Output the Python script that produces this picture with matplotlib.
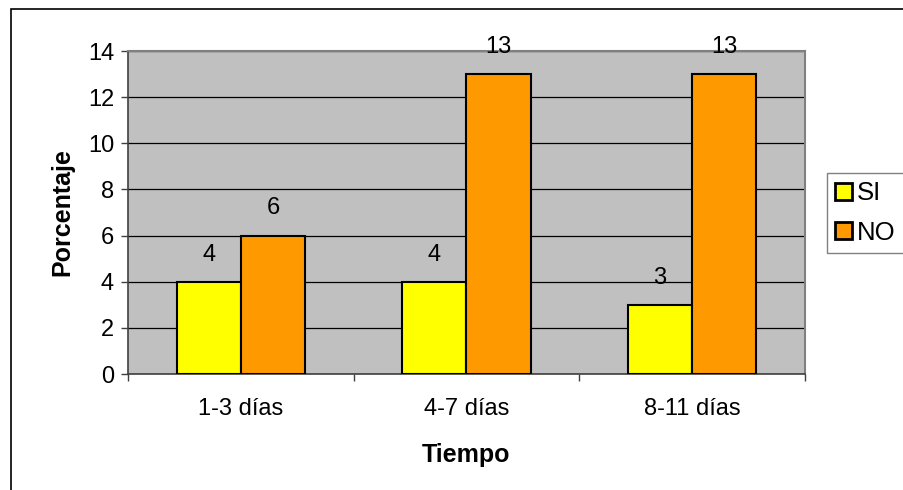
import numpy as np
import matplotlib.pyplot as plt
from matplotlib.patches import Rectangle

plt.rcParams['font.family'] = ['Liberation Sans', 'DejaVu Sans']

categories = ["1-3 días", "4-7 días", "8-11 días"]
si_values = [4, 4, 3]
no_values = [6, 13, 13]
series_names = ["SI", "NO"]
colors = ["#FFFF00", "#FF9900"]

fig = plt.figure(figsize=(9.04, 4.9), dpi=100)
W, H = 904, 490
ax = fig.add_axes([128 / W, 1 - 374 / H, (805 - 128) / W, (374 - 51) / H])
ax.set_facecolor("#C0C0C0")

x = np.arange(len(categories))
bw = 0.284
b1 = ax.bar(x - bw / 2, si_values, bw, color=colors[0], edgecolor="black", linewidth=1.5, label=series_names[0], zorder=3)
b2 = ax.bar(x + bw / 2, no_values, bw, color=colors[1], edgecolor="black", linewidth=1.5, label=series_names[1], zorder=3)

for bars, vals in ((b1, si_values), (b2, no_values)):
    for rect, v in zip(bars, vals):
        ax.annotate(str(v), (rect.get_x() + rect.get_width() / 2, v), xytext=(0, 19.5),
                    textcoords="offset points", ha="center", va="center", fontsize=17)

ax.set_xlim(-0.5, len(categories) - 0.5)
ax.set_ylim(0, 14)
ax.set_yticks(range(0, 15, 2))
ax.yaxis.grid(True, color="black", linewidth=0.9, zorder=1)
ax.set_axisbelow(True)
ax.set_xticks(x)
ax.set_xticklabels(categories, fontsize=17)
ax.set_xticks(np.arange(-0.5, len(categories)), minor=True)
ax.tick_params(axis="x", which="major", length=0, pad=17)
ax.tick_params(axis="x", which="minor", length=5, width=1, color="#404040")
ax.tick_params(axis="y", labelsize=17, length=5, width=1, color="#404040", pad=5)

for side in ("top", "right"):
    ax.spines[side].set_color("#808080")
    ax.spines[side].set_linewidth(1.5)
ax.spines["left"].set_color("#404040")
ax.spines["bottom"].set_color("#404040")
ax.spines["left"].set_linewidth(1.2)
ax.spines["bottom"].set_linewidth(1.2)

ax.set_ylabel("Porcentaje", fontsize=18, fontweight="bold", labelpad=10)
ax.set_xlabel("Tiempo", fontsize=18, fontweight="bold", labelpad=17)

leg = fig.legend(loc="upper left", bbox_to_anchor=(827 / W, 1 - 173 / H), fontsize=18.5,
                 frameon=True, fancybox=False, edgecolor="#606060", handlelength=0.65,
                 handleheight=0.65, handletextpad=0.2, borderpad=0.32, labelspacing=0.6,
                 borderaxespad=0)
leg.get_frame().set_linewidth(1.0)
for h in leg.legend_handles:
    h.set_linewidth(2)

# outer chart frame, extends past the right and bottom edges
fig.patches.append(Rectangle((11 / W, -0.1), 1.2, 1 - 9 / H + 0.1, transform=fig.transFigure,
                             fill=False, edgecolor="black", linewidth=1.2, clip_on=False))

fig.savefig("out.png", dpi=100)
